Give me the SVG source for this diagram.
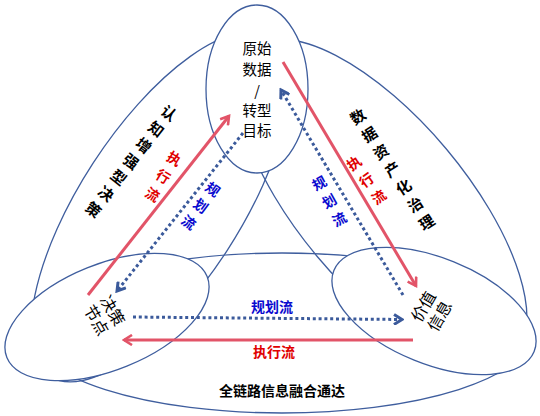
<svg xmlns="http://www.w3.org/2000/svg" width="540" height="416" viewBox="0 0 540 416">
<style>
.lobe{fill:none;stroke:#3F5E9E;stroke-width:1.3}
.node{fill:#fff;stroke:#3F5E9E;stroke-width:1.3}
.exec{fill:none;stroke:#E25468;stroke-width:3}
.plan{fill:none;stroke:#3B5A9B;stroke-width:3;stroke-dasharray:3 2.8}
.t{font-family:"Noto Sans CJK SC","Noto Sans",sans-serif}
.nt{font-size:16px;fill:#000}
.tt{font-size:14.5px;fill:#000}
.lb{font-size:15px;font-weight:bold;fill:#000}
.red{font-size:14px;font-weight:bold;fill:#E00000}
.blue{font-size:14px;font-weight:bold;fill:#0A0ACF}
.vt{writing-mode:vertical-rl;text-anchor:middle}
</style>
<defs>
<marker id="ahRed" viewBox="0 0 12 12" refX="9.5" refY="6" markerWidth="12" markerHeight="12" markerUnits="userSpaceOnUse" orient="auto">
<path d="M1.5,1 L9.5,6 L1.5,11" fill="none" stroke="#E25468" stroke-width="2.6"/>
</marker>
<marker id="ahBlue" viewBox="0 0 12 12" refX="9.5" refY="6" markerWidth="12" markerHeight="12" markerUnits="userSpaceOnUse" orient="auto">
<path d="M1.5,1 L9.5,6 L1.5,11" fill="none" stroke="#3B5A9B" stroke-width="3"/>
</marker>
</defs>

<g id="lobes">
<g id="lobe-bottom"><ellipse class="lobe" cx="282" cy="333" rx="250" ry="80"/></g>
<g id="lobe-left"><ellipse class="lobe" cx="0" cy="0" rx="202" ry="80" transform="translate(160,207) rotate(-57)"/></g>
<g id="lobe-right"><ellipse class="lobe" cx="0" cy="0" rx="202" ry="84" transform="translate(382,203) rotate(50)"/></g>
</g>

<g id="node-top"><ellipse class="node" cx="257" cy="89" rx="51" ry="84"/></g>
<g id="node-left"><ellipse class="node" cx="0" cy="0" rx="108" ry="53" transform="translate(107,317) rotate(-22)"/></g>
<g id="node-right"><ellipse class="node" cx="0" cy="0" rx="108" ry="53" transform="translate(434,311) rotate(22)"/></g>

<g id="connectors">
<path class="exec" d="M88,295 L229,116" marker-end="url(#ahRed)"/>
<path class="plan" d="M243,133 L117,291" marker-end="url(#ahBlue)"/>
<path class="exec" d="M283,62 L416,286" marker-end="url(#ahRed)"/>
<path class="plan" d="M403,295 L281,90" marker-end="url(#ahBlue)"/>
<path class="plan" d="M133,317 L402,319.5" marker-end="url(#ahBlue)"/>
<path class="exec" d="M413,340 L124,340" marker-end="url(#ahRed)"/>
</g>

<g id="labels">
<text class="t tt" text-anchor="middle"><tspan x="257" y="54">原始</tspan><tspan x="257" y="75">数据</tspan><tspan x="257" y="96">/</tspan><tspan x="257" y="116">转型</tspan><tspan x="257" y="136">目标</tspan></text>
<text class="t nt" text-anchor="middle" transform="translate(105,315) rotate(60)"><tspan x="0" y="-3">决策</tspan><tspan x="0" y="16">节点</tspan></text>
<text class="t nt" text-anchor="middle" transform="translate(431,311) rotate(-60)"><tspan x="0" y="-3">价值</tspan><tspan x="0" y="16">信息</tspan></text>

<text class="t lb vt" x="0" y="0" letter-spacing="5.4" transform="translate(129.5,163.5) rotate(38)">认知增强型决策</text>
<text class="t lb vt" x="0" y="0" letter-spacing="6" transform="translate(394,172) rotate(-33)">数据资产化治理</text>
<text class="t red vt" x="0" y="0" letter-spacing="7" transform="translate(161.5,179.5) rotate(31)">执行流</text>
<text class="t blue vt" x="0" y="0" letter-spacing="6.4" transform="translate(199,208.5) rotate(36)">规划流</text>
<text class="t red vt" x="0" y="0" letter-spacing="7" transform="translate(368.5,183) rotate(-36)">执行流</text>
<text class="t blue vt" x="0" y="0" letter-spacing="6.6" transform="translate(331,204) rotate(-29)">规划流</text>

<text class="t blue" x="272" y="312" text-anchor="middle">规划流</text>
<text class="t red" x="274" y="357" text-anchor="middle">执行流</text>
<text class="t lb" x="282" y="396" text-anchor="middle" style="font-size:14px">全链路信息融合通达</text>
</g>
</svg>
